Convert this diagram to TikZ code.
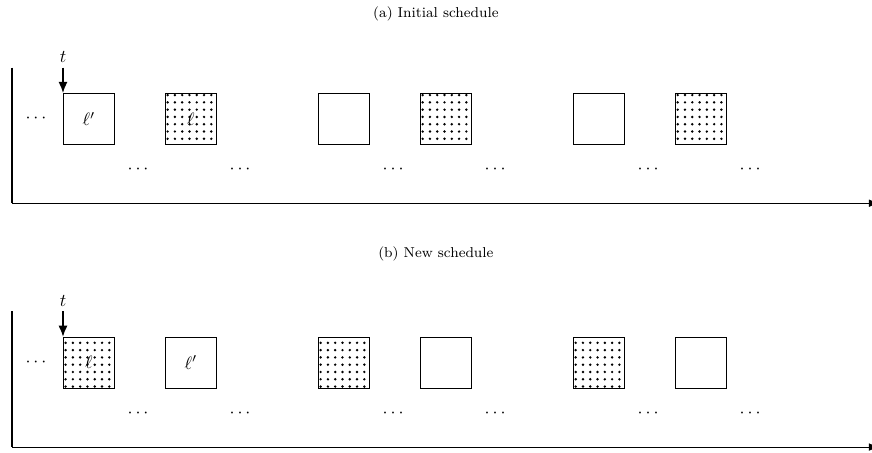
\documentclass[tikz,border=0pt]{standalone}
\usepackage{amsmath}
\usepackage{amssymb}
\usepackage{tikz}
\usetikzlibrary{arrows.meta,patterns.meta}

\tikzset{
	slot/.style={draw, minimum size=1cm, inner sep=0pt, anchor=north west},
	slotdots/.style={slot, pattern={Dots[distance=1cm/7, radius=0.75pt]}},
	gapdots/.style={inner sep=0pt},
	axis/.style={line width=0.6pt},
	marker/.style={-{Latex[length=2.2mm,width=1.8mm]}, line width=0.9pt},
	caption/.style={font=\footnotesize}
}

\begin{document}
\begin{tikzpicture}
						\useasboundingbox (-1.235, 1.824) rectangle (15.86, -7.04);
						% (a) initial schedule
						\node[caption] (capa) at (7.31, 1.56) {(a) Initial schedule};
						\coordinate (otopa) at (-1, 0.5);
						\coordinate (oa) at (-1, -2.16);
						\coordinate (enda) at (16.0, -2.16);
						\draw[axis] (otopa) -- (oa);
						\draw[axis, -{Latex[length=2mm]}] (oa) -- (enda);
						\node[gapdots] (da0) at (-0.5, -0.5) {$\cdots$};
						\node[slot] (a1) at (0, 0) {$\ell'$};
						\node[slotdots] (a2) at (2, 0) {$\ell$};
						\node[slot] (a3) at (5, 0) {};
						\node[slotdots] (a4) at (7, 0) {};
						\node[slot] (a5) at (10, 0) {};
						\node[slotdots] (a6) at (12, 0) {};
						\node[gapdots] (da1) at (1.5, -1.5) {$\cdots$};
						\node[gapdots] (da2) at (3.5, -1.5) {$\cdots$};
						\node[gapdots] (da3) at (6.5, -1.5) {$\cdots$};
						\node[gapdots] (da4) at (8.5, -1.5) {$\cdots$};
						\node[gapdots] (da5) at (11.5, -1.5) {$\cdots$};
						\node[gapdots] (da6) at (13.5, -1.5) {$\cdots$};
						\coordinate (ta) at (0, 0.5);
						\node[above=-1pt] (tla) at (ta) {$t$};
						\draw[marker] (ta) -- (a1.north west);

						% (b) new schedule
						\begin{scope}[yshift=-4.78cm]
						\node[caption] (capb) at (7.31, 1.62) {(b) New schedule};
						\coordinate (otopb) at (-1, 0.5);
						\coordinate (ob) at (-1, -2.16);
						\coordinate (endb) at (16.0, -2.16);
						\draw[axis] (otopb) -- (ob);
						\draw[axis, -{Latex[length=2mm]}] (ob) -- (endb);
						\node[gapdots] (db0) at (-0.5, -0.5) {$\cdots$};
						\node[slotdots] (b1) at (0, 0) {$\ell$};
						\node[slot] (b2) at (2, 0) {$\ell'$};
						\node[slotdots] (b3) at (5, 0) {};
						\node[slot] (b4) at (7, 0) {};
						\node[slotdots] (b5) at (10, 0) {};
						\node[slot] (b6) at (12, 0) {};
						\node[gapdots] (db1) at (1.5, -1.5) {$\cdots$};
						\node[gapdots] (db2) at (3.5, -1.5) {$\cdots$};
						\node[gapdots] (db3) at (6.5, -1.5) {$\cdots$};
						\node[gapdots] (db4) at (8.5, -1.5) {$\cdots$};
						\node[gapdots] (db5) at (11.5, -1.5) {$\cdots$};
						\node[gapdots] (db6) at (13.5, -1.5) {$\cdots$};
						\coordinate (tb) at (0, 0.5);
						\node[above=-1pt] (tlb) at (tb) {$t$};
						\draw[marker] (tb) -- (b1.north west);
						\end{scope}
					\end{tikzpicture}
\end{document}
